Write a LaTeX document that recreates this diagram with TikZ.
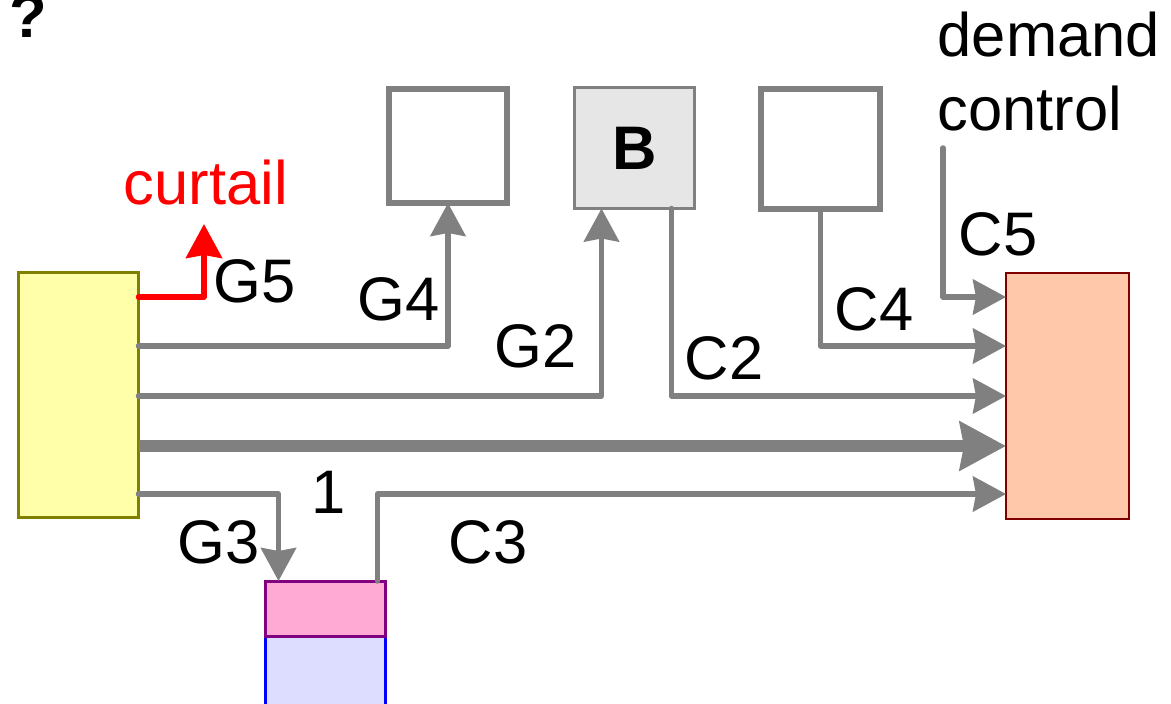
\documentclass[tikz,border=0pt]{standalone}
\usepackage{fontspec}
\setmainfont{Liberation Sans}
\usepackage{xcolor}
\usetikzlibrary{arrows.meta}
\definecolor{linegray}{HTML}{808080}
\definecolor{boxgray}{HTML}{E6E6E6}
\definecolor{srcyellow}{HTML}{FFFFAA}
\definecolor{srcolive}{HTML}{808000}
\definecolor{loadorange}{HTML}{FFC8AA}
\definecolor{loadred}{HTML}{800000}
\definecolor{storepink}{HTML}{FFAAD4}
\definecolor{storepurple}{HTML}{800080}
\definecolor{storeblue}{HTML}{DDDDFF}

\begin{document}
\begin{tikzpicture}[font=\fontsize{17.5}{21}\selectfont,
	box/.style={draw=linegray, inner sep=0pt, outer sep=0pt},
	flow/.style={draw=linegray, line width=0.055cm, line join=round, line cap=round,
		-{Stealth[length=0.33cm,width=0.35cm,inset=0.03cm]}},
	label/.style={anchor=base west, inner sep=0pt}]
	\useasboundingbox (0,0) rectangle (11.71,7.03);
	%
	\node (Q) [anchor=base west, inner sep=0pt, font=\fontsize{17.5}{21}\selectfont\bfseries] at (0.09,6.66) {?};
	%
	\node (Src) [box, draw=srcolive, fill=srcyellow, line width=0.03cm, minimum width=1.20cm, minimum height=2.45cm] at (0.785,3.08) {};
	\node (Load) [box, draw=loadred, fill=loadorange, line width=0.025cm, minimum width=1.23cm, minimum height=2.46cm] at (10.675,3.07) {};
	\node (G4box) [box, line width=0.06cm, minimum width=1.18cm, minimum height=1.14cm] at (4.48,5.57) {};
	\node (Bbox) [box, fill=boxgray, line width=0.03cm, minimum width=1.20cm, minimum height=1.21cm, font=\fontsize{17.5}{21}\selectfont\bfseries] at (6.345,5.55) {B};
	\node (C4box) [box, line width=0.06cm, minimum width=1.19cm, minimum height=1.20cm] at (8.205,5.54) {};
	\node (Blue) [box, draw=blue, fill=storeblue, line width=0.03cm, minimum width=1.20cm, minimum height=1.30cm, anchor=north] at (3.255,0.67) {};
	\node (Pink) [box, draw=storepurple, fill=storepink, line width=0.03cm, minimum width=1.20cm, minimum height=0.55cm, anchor=south] at (3.255,0.67) {};
	%
	\node (Dc) [anchor=base west, inner sep=0pt, align=left] at (9.37,5.73) {demand\\control};
	\coordinate (Dcfoot) at (9.43,5.55);
	\coordinate (Cut) at (2.04,4.79);
	%
	\coordinate (r1) at (0,4.06);
	\coordinate (r2) at (0,3.57);
	\coordinate (r3) at (0,3.07);
	\coordinate (r4) at (0,2.57);
	\coordinate (r5) at (0,2.09);
	%
	\draw[flow, draw=red, -{Stealth[length=0.34cm,width=0.36cm,inset=0.03cm]}] (Src.east |- r1) -| (Cut);
	\draw[flow] (Src.east |- r2) -| (G4box.south);
	\draw[flow] (Src.east |- r3) -| ([xshift=0.27cm]Bbox.south west);
	\draw[flow, line width=0.12cm, line cap=butt, -{Stealth[length=0.46cm,width=0.48cm,inset=0.04cm]}] (Src.east |- r4) -- (Load.west |- r4);
	\draw[flow] (Src.east |- r5) -| ([xshift=0.13cm]Pink.north west);
	\draw[flow] ([xshift=1.12cm]Pink.north west) |- (Load.west |- r5);
	\draw[flow] ([xshift=0.97cm]Bbox.south west) |- (Load.west |- r3);
	\draw[flow] (C4box.south) |- (Load.west |- r2);
	\draw[flow] (Dcfoot) |- (Load.west |- r1);
	%
	\node (curtail) [label, text=red] at (1.23,4.99) {curtail};
	\node (G5) [label] at (2.13,4.01) {G5};
	\node (G4) [label] at (3.57,3.83) {G4};
	\node (G2) [label] at (4.94,3.36) {G2};
	\node (C2) [label] at (6.84,3.24) {C2};
	\node (C4) [label] at (8.34,3.73) {C4};
	\node (C5) [label] at (9.58,4.48) {C5};
	\node (G3) [label] at (1.77,1.40) {G3};
	\node (one) [label] at (3.11,1.90) {1};
	\node (C3) [label] at (4.48,1.40) {C3};
\end{tikzpicture}
\end{document}
